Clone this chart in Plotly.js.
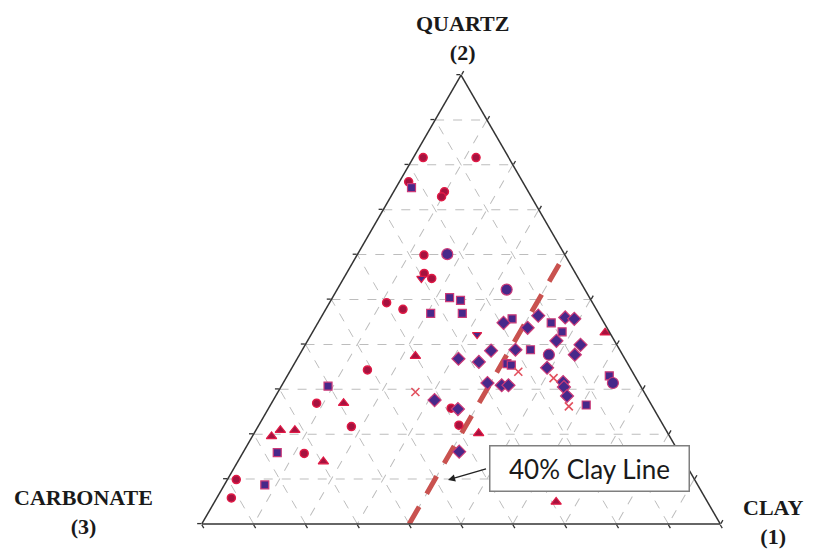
<!DOCTYPE html>
<html>
<head>
<meta charset="utf-8">
<script src="https://cdn.plot.ly/plotly-3.0.1.min.js"></script>
<style>html,body{margin:0;padding:0;background:#fff;}#chart{width:819px;height:554px;}</style>
</head>
<body>
<div id="chart"></div>
<script>
// Ternary composition values (%): quartz (a), carbonate (b), clay (c)
const redCircleQuartz    = [81.6, 81.6, 76.2, 74.0, 72.9, 59.9, 55.8, 54.7, 49.3, 47.8, 34.3, 26.9, 21.7, 15.7, 9.9, 5.8, 25.8, 22.0];
const redCircleCarbonate = [16.5, 6.3, 22.0, 16.2, 17.3, 27.2, 29.2, 28.3, 39.7, 37.3, 50.9, 64.4, 60.3, 72.4, 88.4, 91.4, 39.0, 39.4];
const redCircleClay      = [1.9, 12.1, 1.8, 9.8, 9.8, 12.9, 15.0, 17.0, 11.0, 14.9, 14.8, 8.7, 18.0, 11.9, 1.7, 2.8, 35.2, 38.6];

const squareQuartz    = [74.9, 50.4, 49.8, 46.9, 46.9, 45.7, 44.8, 42.8, 38.8, 35.7, 35.4, 33.0, 26.5, 30.7, 15.9, 8.7];
const squareCarbonate = [22.1, 27.0, 25.2, 32.4, 26.3, 17.3, 10.2, 9.1, 17.2, 23.3, 22.6, 4.9, 12.6, 60.3, 77.5, 83.5];
const squareClay      = [3.0, 22.6, 25.0, 20.7, 26.8, 37.0, 45.0, 48.1, 44.0, 41.0, 42.0, 62.1, 60.9, 9.0, 6.6, 7.8];

const diamondQuartz    = [44.8, 46.4, 43.7, 46.0, 45.7, 40.8, 39.9, 37.7, 38.6, 38.8, 36.8, 36.1, 34.8, 31.6, 30.5, 28.5, 30.9, 30.9, 27.6, 25.6, 16.1, 31.4];
const diamondCarbonate = [19.4, 11.9, 15.3, 6.9, 5.3, 11.2, 7.0, 9.2, 24.9, 20.1, 32.1, 28.5, 16.0, 14.5, 14.9, 15.3, 26.7, 25.4, 41.3, 37.8, 42.3, 29.2];
const diamondClay      = [35.8, 41.7, 41.0, 47.1, 49.0, 48.0, 53.1, 53.1, 36.5, 41.1, 31.1, 35.4, 49.2, 53.9, 54.6, 56.2, 42.4, 43.7, 31.1, 36.6, 41.6, 39.4];

const bigCircleQuartz    = [60.1, 52.2, 37.7, 31.4];
const bigCircleCarbonate = [22.6, 15.1, 14.2, 5.0];
const bigCircleClay      = [17.3, 32.7, 48.1, 63.6];

const triangleQuartz    = [42.6, 37.4, 26.9, 19.5, 20.9, 20.9, 13.9, 20.2, 4.9];
const triangleCarbonate = [0.9, 40.1, 59.2, 76.8, 74.4, 71.6, 69.6, 36.5, 29.2];
const triangleClay      = [56.5, 22.5, 13.9, 3.7, 4.7, 7.5, 16.5, 43.3, 65.9];

const crossQuartz    = [29.4, 33.9, 32.5, 26.2];
const crossCarbonate = [44.1, 22.0, 15.9, 16.1];
const crossClay      = [26.5, 44.1, 51.6, 57.7];

const downQuartz    = [42.2, 54.7];
const downCarbonate = [25.8, 30.3];
const downClay      = [32.0, 15.0];

// 40% clay reference line
const clayLineQuartz    = [0, 60];
const clayLineCarbonate = [60, 0];
const clayLineClay      = [40, 40];

const axisLabels = ['QUARTZ<br>(2)', 'CARBONATE<br>(3)', 'CLAY<br>(1)'];
const boxLabel = '40% Clay Line';

const RED_FILL = '#a5123f', RED_LINE = '#e01a46';
const PUR_FILL = '#47288a', PUR_LINE = '#cc3a78';

function pts(name, a, b, c, marker) {
  return {type: 'scatterternary', mode: 'markers', name: name, a: a, b: b, c: c,
          marker: marker, hoverinfo: 'skip', cliponaxis: false};
}

const traces = [
  {type: 'scatterternary', mode: 'lines', name: '40% Clay Line',
   a: clayLineQuartz, b: clayLineCarbonate, c: clayLineClay,
   line: {color: '#c9524f', width: 5, dash: '20px,15px'}, hoverinfo: 'skip'},
  pts('Red circle', redCircleQuartz, redCircleCarbonate, redCircleClay,
      {symbol: 'circle', size: 8, color: RED_FILL, line: {color: RED_LINE, width: 1.5}}),
  pts('Square', squareQuartz, squareCarbonate, squareClay,
      {symbol: 'square', size: 8, color: PUR_FILL, line: {color: PUR_LINE, width: 1.2}}),
  pts('Diamond', diamondQuartz, diamondCarbonate, diamondClay,
      {symbol: 'diamond', size: 10, color: PUR_FILL, line: {color: PUR_LINE, width: 1.2}}),
  pts('Circle', bigCircleQuartz, bigCircleCarbonate, bigCircleClay,
      {symbol: 'circle', size: 11, color: PUR_FILL, line: {color: PUR_LINE, width: 1.2}}),
  pts('Triangle', triangleQuartz, triangleCarbonate, triangleClay,
      {symbol: 'triangle-up', size: 9, color: RED_FILL, line: {color: RED_LINE, width: 1.2}}),
  pts('Cross', crossQuartz, crossCarbonate, crossClay,
      {symbol: 'x-thin-open', size: 8, color: '#e2505e', line: {color: '#e2505e', width: 1.6}}),
  pts('Down triangle', downQuartz, downCarbonate, downClay,
      {symbol: 'triangle-down', size: 8, color: PUR_FILL, line: {color: RED_LINE, width: 1.2}})
];

const axisStyle = {
  min: 0, showticklabels: false, ticks: 'outside', ticklen: 4, tickwidth: 1.3, tickcolor: '#333',
  dtick: 10, linecolor: '#333', linewidth: 1.5, showgrid: true, gridcolor: '#bdbdbd',
  griddash: 'dash', gridwidth: 1, title: {text: ''}
};

const titleFont = {family: 'Liberation Serif, serif', size: 22, color: '#1a1a1a'};

const layout = {
  width: 819, height: 554, margin: {l: 0, r: 0, t: 0, b: 0},
  paper_bgcolor: '#ffffff', showlegend: false,
  ternary: {
    sum: 100, bgcolor: 'rgba(0,0,0,0)',
    domain: {x: [0.1722, 0.9536], y: [0.0542, 0.8646]},
    aaxis: Object.assign({}, axisStyle),
    baxis: Object.assign({}, axisStyle),
    caxis: Object.assign({}, axisStyle)
  },
  annotations: [
    {xref: 'paper', yref: 'paper', x: 462/819, y: 1 - 38/554, text: '<b>' + axisLabels[0] + '</b>',
     showarrow: false, font: titleFont, xanchor: 'center', yanchor: 'middle'},
    {xref: 'paper', yref: 'paper', x: 83/819, y: 1 - 512/554, text: '<b>' + axisLabels[1] + '</b>',
     showarrow: false, font: titleFont, xanchor: 'center', yanchor: 'middle'},
    {xref: 'paper', yref: 'paper', x: 773/819, y: 1 - 522/554, text: '<b>' + axisLabels[2] + '</b>',
     showarrow: false, font: titleFont, xanchor: 'center', yanchor: 'middle'},
    {xref: 'paper', yref: 'paper', x: 589.5/819, y: 1 - 468.5/554, text: boxLabel,
     showarrow: false, font: {family: 'Lato, Liberation Sans, sans-serif', size: 26, color: '#1a1a1a'},
     xanchor: 'center', yanchor: 'middle', bgcolor: '#ffffff', bordercolor: '#7f7f7f',
     borderwidth: 1.5, borderpad: 4, width: 190, height: 36},
    {xref: 'paper', yref: 'paper', x: 448/819, y: 1 - 480/554, text: ' ',
     showarrow: true, ax: 41, ay: -12, arrowhead: 2, arrowsize: 1.1, arrowwidth: 1.3,
     arrowcolor: '#222', standoff: 0}
  ]
};

Plotly.newPlot('chart', traces, layout, {staticPlot: true, displayModeBar: false});
</script>
</body>
</html>
